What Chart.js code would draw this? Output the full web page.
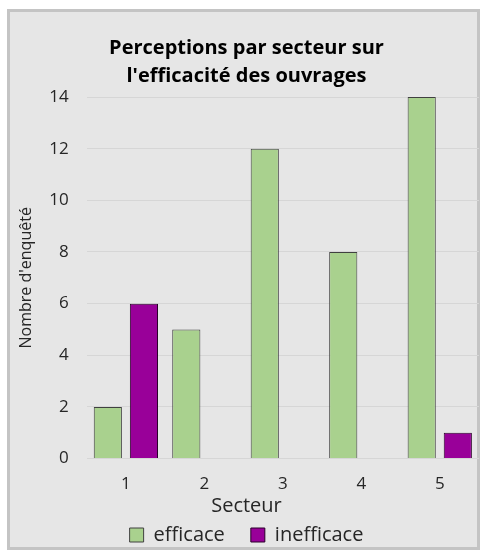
<!DOCTYPE html>
<html>
<head>
<meta charset="utf-8">
<script src="https://cdn.jsdelivr.net/npm/chart.js@4"></script>
<style>
  html, body { margin: 0; padding: 0; background: #ffffff; overflow: hidden; }
  #cadre {
    position: absolute; left: 7px; top: 9px;
    width: 467px; height: 535px;
    border: 3px solid #c4c4c4;
    background: #e6e6e6;
    overflow: visible;
  }
  canvas { display: block; }
</style>
</head>
<body>
<div id="cadre"><canvas id="graphique" width="469" height="553"></canvas></div>
<script>
// Données
const secteurs = ["1", "2", "3", "4", "5"];
const efficace = [2, 5, 12, 8, 14];
const inefficace = [6, 0, 0, 0, 1];

const police = "'Open Sans', sans-serif";

const ctx = document.getElementById("graphique").getContext("2d");

new Chart(ctx, {
    type: "bar",
    data: {
        labels: secteurs,
        datasets: [
            {
                label: "efficace",
                data: efficace,
                backgroundColor: "#a9d18e",
                borderColor: "#404040",
                borderWidth: 1
            },
            {
                label: "inefficace",
                data: inefficace,
                backgroundColor: "#990099",
                borderColor: "#2a002a",
                borderWidth: 1
            }
        ]
    },
    options: {
        responsive: false,
        animation: false,
        categoryPercentage: 0.92,
        barPercentage: 0.78,
        layout: { padding: { left: 4, right: 0, top: 10, bottom: 0 } },
        plugins: {
            title: {
                display: true,
                text: ["Perceptions par secteur sur", "l'efficacité des ouvrages"],
                color: "#000000",
                font: { family: police, size: 20, weight: "bold", lineHeight: 1.4 },
                padding: { top: 12, bottom: 7 }
            },
            // titre de l'axe X (centré sur le cadre comme dans Excel)
            subtitle: {
                display: true,
                position: "bottom",
                weight: 500,
                text: "Secteur",
                color: "#262626",
                font: { family: police, size: 20, lineHeight: 1.2 },
                padding: { top: -15, bottom: -19 }
            },
            legend: {
                position: "bottom",
                labels: {
                    color: "#262626",
                    font: { family: police, size: 20 },
                    boxWidth: 14,
                    boxHeight: 14,
                    padding: 26
                }
            },
            tooltip: { enabled: false }
        },
        scales: {
            x: {
                grid: { display: false, drawTicks: false },
                border: { display: false },
                ticks: { color: "#262626", font: { family: police, size: 17 }, padding: 15 }
            },
            y: {
                min: 0,
                max: 14,
                ticks: { stepSize: 2, color: "#262626", font: { family: police, size: 17 }, padding: 18 },
                grid: { color: "#d6d6d6", lineWidth: 1, drawTicks: false },
                border: { display: false },
                title: {
                    display: true,
                    text: "Nombre d'enquêté",
                    color: "#262626",
                    font: { family: police, size: 16 },
                    padding: { top: 3, bottom: -5 }
                }
            }
        }
    }
});
</script>
</body>
</html>
